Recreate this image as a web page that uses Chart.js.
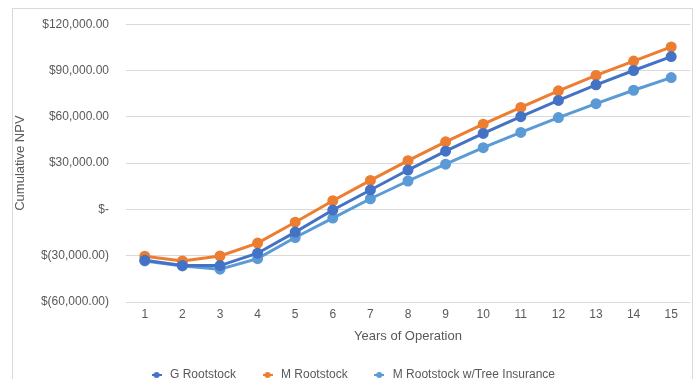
<!DOCTYPE html>
<html>
<head>
<meta charset="utf-8">
<script src="https://cdn.jsdelivr.net/npm/chart.js@4/dist/chart.umd.min.js"></script>
<style>
  html, body { margin: 0; padding: 0; background: #ffffff; }
  #wrap { position: relative; width: 697px; height: 379px; overflow: hidden; }
  #frame { position: absolute; left: 12px; top: 8px; width: 681px; height: 400px; border: 1px solid #d9d9d9; box-sizing: border-box; pointer-events: none; }
  canvas { position: absolute; left: 0; top: 0; }
</style>
</head>
<body>
<div id="wrap">
  <canvas id="c" width="697" height="379"></canvas>
  <div id="frame"></div>
</div>
<script>
// Years of operation (category axis)
const years = ['1', '2', '3', '4', '5', '6', '7', '8', '9', '10', '11', '12', '13', '14', '15'];

// Cumulative NPV per year, in dollars
const gRootstock = [-32900, -36300, -36400, -28400, -14700, -400, 12600, 25500, 37700, 49200, 60100, 70600, 80700, 90000, 99000];
const mRootstock = [-30300, -33400, -30200, -21800, -8300, 5600, 18800, 31600, 43800, 55200, 66100, 76800, 86800, 96100, 105300];
const mRootstockInsurance = [-33400, -36600, -38700, -31900, -18200, -5600, 6900, 18400, 29300, 40000, 49900, 59500, 68500, 77200, 85400];

const seriesNames = ['G Rootstock', 'M Rootstock', 'M Rootstock w/Tree Insurance'];
const seriesColors = ['#4472C4', '#ED7D31', '#5B9BD5'];

const textColor = '#595959';
const gridColor = '#d9d9d9';
const fontFamily = "'Liberation Sans', Arial, sans-serif";

// Accounting-style money labels: $120,000.00, $-, $(30,000.00)
function money(v) {
  if (v === 0) return '$-';
  const s = Math.abs(v).toLocaleString('en-US', { minimumFractionDigits: 2, maximumFractionDigits: 2 });
  return v < 0 ? '$(' + s + ')' : '$' + s;
}

// Legend swatch: short line with a round marker
function legendSwatch(color) {
  const cv = document.createElement('canvas');
  cv.width = 10; cv.height = 8;
  const g = cv.getContext('2d');
  g.strokeStyle = color; g.lineWidth = 2;
  g.beginPath(); g.moveTo(0, 4); g.lineTo(10, 4); g.stroke();
  g.fillStyle = color;
  g.beginPath(); g.arc(5, 4, 3, 0, Math.PI * 2); g.fill();
  return cv;
}
const swatches = seriesColors.map(legendSwatch);

const makeSet = (label, data, color) => ({
  label, data,
  borderColor: color, backgroundColor: color,
  pointBackgroundColor: color, pointBorderColor: color,
  borderWidth: 3, pointRadius: 4, pointHoverRadius: 4,
  tension: 0, fill: false
});

new Chart(document.getElementById('c'), {
  type: 'line',
  data: {
    labels: years,
    datasets: [
      makeSet(seriesNames[0], gRootstock, seriesColors[0]),
      makeSet(seriesNames[1], mRootstock, seriesColors[1]),
      makeSet(seriesNames[2], mRootstockInsurance, seriesColors[2])
    ]
  },
  options: {
    responsive: false,
    animation: false,
    layout: { padding: { left: 13, right: 6, top: 23, bottom: -12 } },
    plugins: {
      tooltip: { enabled: false },
      legend: {
        position: 'bottom',
        labels: {
          usePointStyle: true,
          pointStyleWidth: 15,
          padding: 24,
          color: textColor,
          font: { family: fontFamily, size: 12 },
          generateLabels(chart) {
            const items = Chart.defaults.plugins.legend.labels.generateLabels(chart);
            items.forEach((it, i) => { it.pointStyle = swatches[i]; });
            return items;
          }
        }
      }
    },
    scales: {
      x: {
        offset: true,
        afterFit(scale) { scale.height = 43; },
        grid: { display: false, drawTicks: false },
        border: { display: false },
        ticks: { color: textColor, font: { family: fontFamily, size: 12 }, padding: 5, maxRotation: 0 },
        title: { display: true, text: 'Years of Operation', color: textColor, font: { family: fontFamily, size: 13 }, padding: { top: 4, bottom: 1 } }
      },
      y: {
        min: -60000, max: 120000,
        afterFit(scale) { scale.width = 113; },
        grid: { color: gridColor, lineWidth: 1, drawTicks: false },
        border: { display: false },
        ticks: { stepSize: 30000, color: textColor, font: { family: fontFamily, size: 12 }, padding: 17, callback: v => money(v) },
        title: { display: true, text: 'Cumulative NPV', color: textColor, font: { family: fontFamily, size: 13 }, padding: { top: 0, bottom: 0 } }
      }
    }
  }
});
</script>
</body>
</html>
